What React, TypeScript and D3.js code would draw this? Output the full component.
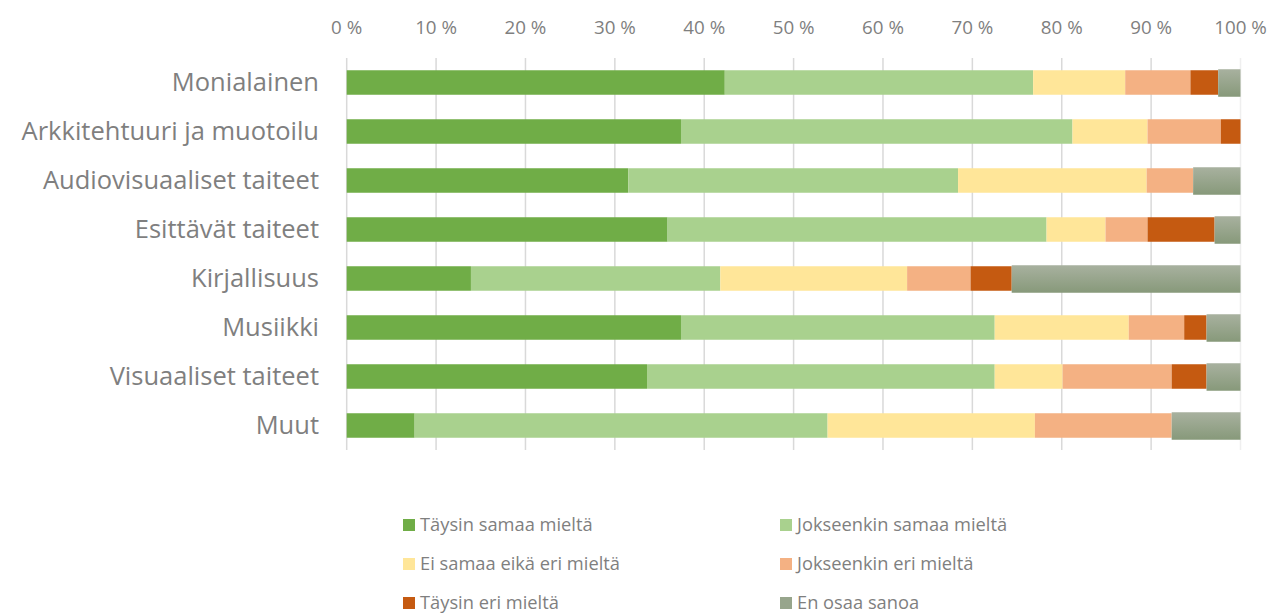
import React from "react";
import * as d3 from "d3";

const categories = [
  "Monialainen",
  "Arkkitehtuuri ja muotoilu",
  "Audiovisuaaliset taiteet",
  "Esittävät taiteet",
  "Kirjallisuus",
  "Musiikki",
  "Visuaaliset taiteet",
  "Muut",
];

const seriesNames = [
  "Täysin samaa mieltä",
  "Jokseenkin samaa mieltä",
  "Ei samaa eikä eri mieltä",
  "Jokseenkin eri mieltä",
  "Täysin eri mieltä",
  "En osaa sanoa",
];

const taysinSamaa = [42.3, 37.4, 31.5, 35.9, 13.9, 37.4, 33.6, 7.6];
const jokseenkinSamaa = [34.5, 43.8, 36.9, 42.4, 27.9, 35.1, 38.9, 46.2];
const eiSamaaEikaEri = [10.3, 8.4, 21.1, 6.6, 20.9, 15.0, 7.6, 23.2];
const jokseenkinEri = [7.3, 8.2, 5.2, 4.7, 7.1, 6.2, 12.2, 15.3];
const taysinEri = [3.1, 2.2, 0, 7.5, 4.6, 2.5, 3.9, 0];
const enOsaa = [2.5, 0, 5.3, 2.9, 25.6, 3.8, 3.8, 7.7];

const tickValues = [0, 10, 20, 30, 40, 50, 60, 70, 80, 90, 100];

const colors = ["#70AD47", "#A9D18E", "#FFE699", "#F4B183", "#C55A11", "url(#greyGrad)"];
const legendColors = ["#70AD47", "#A9D18E", "#FFE699", "#F4B183", "#C55A11", "#97A58C"];

const FONT = "'Open Sans', Lato, sans-serif";
const TEXT = "#7f7f7f";

export default function App() {
  const width = 1285;
  const height = 614;
  const plot = { left: 346.7, right: 1240.5, top: 58, bottom: 450 };

  const seriesValues = [taysinSamaa, jokseenkinSamaa, eiSamaaEikaEri, jokseenkinEri, taysinEri, enOsaa];
  const rows = categories.map((c, i) => {
    const r: any = { cat: c };
    seriesNames.forEach((s, j) => (r[s] = seriesValues[j][i]));
    return r;
  });
  const stacked = d3.stack<any>().keys(seriesNames)(rows);

  const x = d3.scaleLinear().domain([0, 100]).range([plot.left, plot.right]);
  const y = d3.scaleBand().domain(categories).range([plot.top, plot.bottom]).paddingInner(0.5).paddingOuter(0.25);

  const legendCols = [403, 780];
  const legendRows = [525, 564, 603];

  return (
    <svg width={width} height={height} style={{ position: "absolute", left: 0, top: 0, background: "#fff" }}>
      <defs>
        <linearGradient id="greyGrad" x1="0" y1="0" x2="0" y2="1">
          <stop offset="0%" stopColor="#A8B19F" />
          <stop offset="100%" stopColor="#87997A" />
        </linearGradient>
      </defs>
      {tickValues.map((t) => (
        <g key={t}>
          <line
            x1={x(t)}
            x2={x(t)}
            y1={plot.top}
            y2={plot.bottom}
            stroke={t === 100 ? "#efefef" : "#d9d9d9"}
            strokeWidth={1.5}
          />
          <text x={x(t)} y={34} textAnchor="middle" fill={TEXT} fontSize={18.8} fontFamily={FONT}>
            {t} %
          </text>
        </g>
      ))}
      {stacked.map((layer, j) =>
        layer.map((d, i) => {
          const w = x(d[1]) - x(d[0]);
          if (w <= 0) return null;
          const isGrey = j === 5;
          const y0 = (y(categories[i]) as number) - (isGrey ? 1 : 0);
          const h = y.bandwidth() + (isGrey ? 3 : 0);
          return <rect key={j + "-" + i} x={x(d[0])} y={y0} width={w} height={h} fill={colors[j]} />;
        })
      )}
      {categories.map((c) => (
        <text
          key={c}
          x={319}
          y={(y(c) as number) + y.bandwidth() / 2}
          dy="0.35em"
          textAnchor="end"
          fill={TEXT}
          fontSize={25.5}
          fontFamily={FONT}
        >
          {c}
        </text>
      ))}
      {seriesNames.map((s, j) => {
        const cx = legendCols[j % 2];
        const cy = legendRows[Math.floor(j / 2)];
        return (
          <g key={s}>
            <rect x={cx} y={cy - 6} width={12} height={12} fill={legendColors[j]} />
            <text x={cx + 17} y={cy} dy="0.35em" fill={TEXT} fontSize={18.3} fontFamily={FONT}>
              {s}
            </text>
          </g>
        );
      })}
    </svg>
  );
}
